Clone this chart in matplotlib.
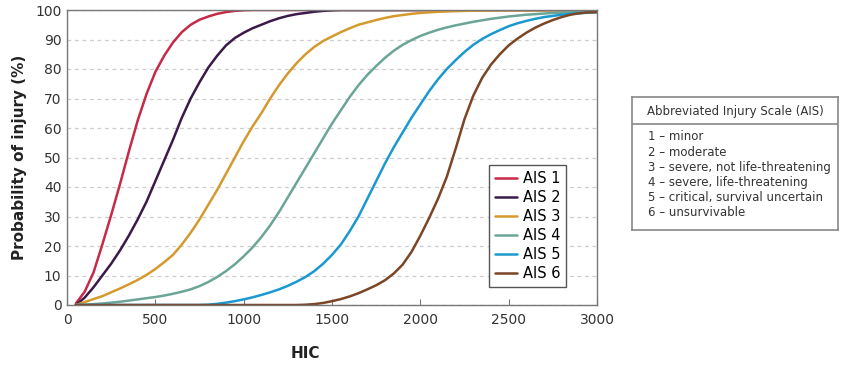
import matplotlib.pyplot as plt

# HIC grid (every 50 from 50 to 3000)
hic = list(range(50, 3001, 50))

# Probability of injury (%) at each HIC value
ais1 = [0.5, 4.5, 11, 20.5, 30.5, 41, 52, 62.5, 71.5, 79, 84.5, 89, 92.5, 95, 96.7, 97.8,
        98.7, 99.3, 99.7, 99.9] + [100] * 40
ais2 = [0, 2.5, 6, 10, 14, 18.5, 23.5, 29, 35, 42, 49, 56, 63.5, 70, 75.5, 80.5, 84.5, 88,
        90.5, 92.3, 93.8, 95, 96.2, 97.2, 98, 98.6, 99, 99.4, 99.7, 99.9] + [100] * 30
ais3 = [0, 1, 2, 3, 4.3, 5.6, 7, 8.5, 10.2, 12.2, 14.5, 17, 20.5, 24.5, 29, 34, 39, 44.5,
        50, 55.5, 60.5, 65, 70, 74.5, 78.5, 82, 85, 87.5, 89.5, 91, 92.5, 93.8, 95, 95.8,
        96.6, 97.3, 97.9, 98.3, 98.7, 99, 99.2, 99.4, 99.5, 99.6, 99.7, 99.75, 99.8, 99.85,
        99.9, 99.9, 99.9, 99.9, 99.9, 99.9, 99.9, 99.9, 99.9, 99.9, 99.9, 99.9]
ais4 = [0, 0.1, 0.3, 0.5, 0.8, 1.1, 1.5, 1.9, 2.3, 2.7, 3.2, 3.8, 4.5, 5.3, 6.4, 7.8, 9.5,
        11.5, 13.8, 16.5, 19.5, 23, 27, 31.5, 36.5, 41.5, 46.5, 51.5, 56.5, 61.5, 66, 70.5,
        74.5, 78, 81, 83.8, 86.2, 88.2, 89.8, 91.2, 92.3, 93.3, 94.1, 94.8, 95.4, 96, 96.5,
        97, 97.4, 97.8, 98.1, 98.4, 98.6, 98.8, 99, 99.1, 99.2, 99.3, 99.3, 99.4]
ais5 = [0] * 15 + [0.1, 0.4, 0.8, 1.3, 1.9, 2.6, 3.4, 4.3, 5.3, 6.5, 7.9, 9.5, 11.5, 14, 17,
        20.5, 25, 30, 36, 42, 48, 53.5, 58.5, 63.5, 68, 72.5, 76.5, 80, 83, 85.8, 88.2, 90.2,
        91.8, 93.2, 94.5, 95.5, 96.3, 97, 97.6, 98, 98.4, 98.7, 98.9, 99.1, 99.2]
ais6 = [0] * 26 + [0.1, 0.3, 0.7, 1.3, 2, 2.9, 4, 5.3, 6.7, 8.4, 10.7, 13.7, 18, 23.5, 29.5,
        36, 43.5, 53, 63, 71, 77, 81.5, 85, 88, 90.3, 92.3, 94, 95.4, 96.6, 97.6, 98.4, 98.9,
        99.2, 99.3]

labels = ["AIS 1", "AIS 2", "AIS 3", "AIS 4", "AIS 5", "AIS 6"]
colors = ["#c62a47", "#3b1a4a", "#d49a2e", "#6aa597", "#1b98cf", "#7b4526"]

scale_title = "Abbreviated Injury Scale (AIS)"
scale_items = ["1 \u2013 minor", "2 \u2013 moderate", "3 \u2013 severe, not life-threatening",
               "4 \u2013 severe, life-threatening", "5 \u2013 critical, survival uncertain",
               "6 \u2013 unsurvivable"]

fig = plt.figure(figsize=(8.58, 3.75), dpi=100)
ax = fig.add_axes([67 / 858, 1 - 305 / 375, 530 / 858, 295 / 375])

for ys, lab, col in zip([ais1, ais2, ais3, ais4, ais5, ais6], labels, colors):
    ax.plot(hic, ys, color=col, lw=1.8, label=lab, solid_capstyle="round")

ax.set_xlim(0, 3000)
ax.set_ylim(0, 100)
ax.set_xticks(range(0, 3001, 500))
ax.set_yticks(range(0, 101, 10))
ax.tick_params(axis="x", direction="in", length=4, color="#777777", labelsize=10,
               labelcolor="#333333", pad=6)
ax.tick_params(axis="y", length=0, labelsize=10, labelcolor="#333333", pad=4)
ax.grid(axis="y", linestyle=(0, (3, 3)), color="#cccccc", lw=0.9)
for s in ax.spines.values():
    s.set_color("#777777")
    s.set_linewidth(1.0)

ax.set_ylabel("Probability of injury (%)", fontsize=11, fontweight="bold", color="#222222")
ax.yaxis.set_label_coords(-0.075, 0.5)
ax.set_xlabel("HIC", fontsize=11, fontweight="bold", color="#222222")
ax.xaxis.set_label_coords(0.449, -0.14)

leg = ax.legend(loc="lower right", bbox_to_anchor=(0.942, 0.061), borderaxespad=0,
                fontsize=10.5, handlelength=1.5, handletextpad=0.4, labelspacing=0.28,
                borderpad=0.4, fancybox=False, framealpha=1)
leg.get_frame().set_edgecolor("#555555")
leg.get_frame().set_linewidth(1.0)

# AIS description box
bx = fig.add_axes([632 / 858, 1 - 230 / 375, 206 / 858, 133 / 375])
bx.set_xticks([])
bx.set_yticks([])
for s in bx.spines.values():
    s.set_color("#888888")
    s.set_linewidth(1.2)
bx.set_xlim(0, 206)
bx.set_ylim(133, 0)
bx.axhline(27, color="#888888", lw=1.2)
bx.text(103, 14, scale_title, ha="center", va="center", fontsize=8.5, color="#333333")
for i, item in enumerate(scale_items):
    bx.text(16, 40 + i * 15.2, item, ha="left", va="center", fontsize=8.5, color="#333333")

fig.savefig("out.png", dpi=100)
